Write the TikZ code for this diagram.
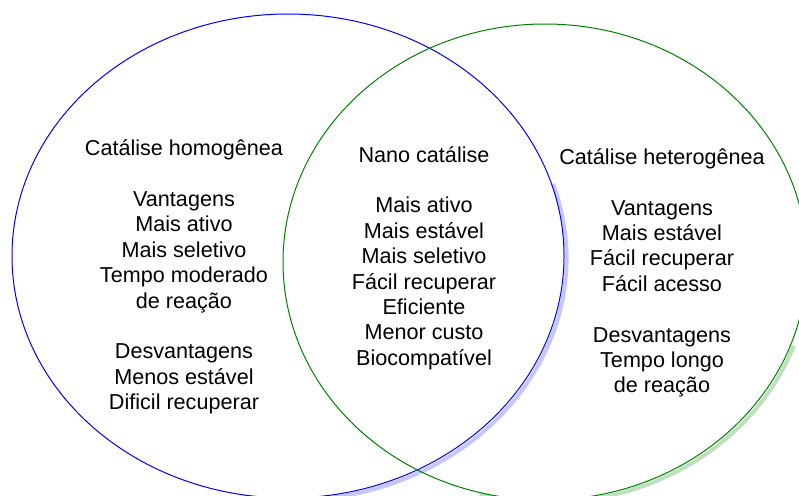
\documentclass[tikz,border=0pt]{standalone}
\usepackage{fontspec}
\setmainfont{Liberation Sans}
\usepackage{tikz}
\usepackage{xcolor}

\tikzset{
  lista/.style={align=center, font=\fontsize{21.6pt}{25.4pt}\selectfont, inner sep=0pt}
}

\begin{document}
\begin{tikzpicture}[x=1pt,y=-1pt]
\useasboundingbox (0,0) rectangle (799,495);
\clip (0,0) rectangle (799,495);
\draw[blue!22, line width=4pt] (290.5,258.5) ++(-18:276 and 242) arc[start angle=-18, end angle=100, x radius=276, y radius=242];
\draw[green!50!black!25, line width=4pt] (547.5,264.5) ++(20:262 and 238) arc[start angle=20, end angle=105, x radius=262, y radius=238];
\draw[blue, line width=1pt] (288,256) ellipse [x radius=276, y radius=242];
\draw[green!50!black, line width=1pt] (545,262) ellipse [x radius=262, y radius=238];
\node[lista] (homog) at (184,277) {Catálise homogênea\\[25.4pt]Vantagens\\Mais ativo\\Mais seletivo\\Tempo moderado\\de reação\\[25.4pt]Desvantagens\\Menos estável\\Dificil recuperar};
\node[lista] (nano) at (424,258) {Nano catálise\\[25.4pt]Mais ativo\\Mais estável\\Mais seletivo\\Fácil recuperar\\Eficiente\\Menor custo\\Biocompatível};
\node[lista] (heterog) at (662,273) {Catálise heterogênea\\[25.4pt]Vantagens\\Mais estável\\Fácil recuperar\\Fácil acesso\\[25.4pt]Desvantagens\\Tempo longo\\de reação};
\end{tikzpicture}
\end{document}
